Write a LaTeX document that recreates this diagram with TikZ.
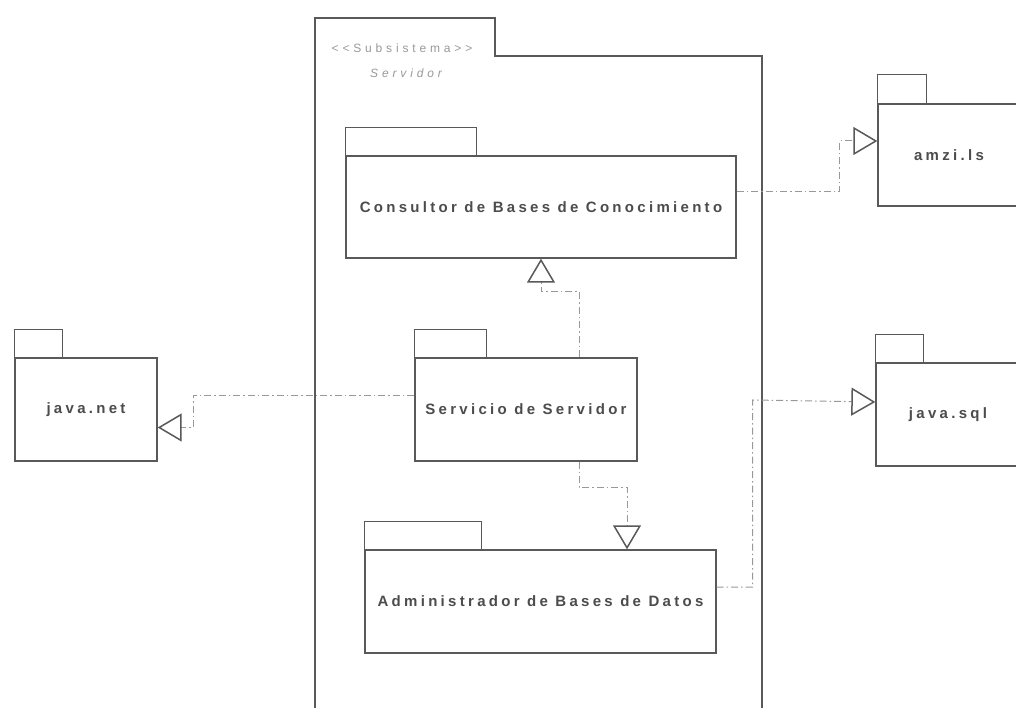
\documentclass[tikz,border=0pt]{standalone}
\usepackage{fontspec}
\setmainfont{Liberation Sans}
\newfontfamily\pkgfont[LetterSpace=22]{Liberation Sans}
\newfontfamily\stfont[LetterSpace=32]{Liberation Sans}
\usetikzlibrary{arrows.meta}
\definecolor{linegray}{gray}{0.35}
\definecolor{depgray}{gray}{0.6}
\definecolor{txtgray}{gray}{0.3}
\tikzset{
  pkg/.style={draw=linegray, line width=1.4pt, rectangle, inner sep=0pt,
    font=\pkgfont\fontsize{15}{17}\selectfont\bfseries, text=txtgray},
  tabbox/.style={draw=linegray, line width=1.4pt},
  stlabel/.style={text=gray!80, font=\stfont\fontsize{12}{14}\selectfont},
  dep/.style={draw=depgray, line width=1pt, dash pattern=on 7pt off 3pt on 1.5pt off 3pt,
    -{Triangle[open, length=24pt, width=28pt, line width=1.5pt, color=linegray]}},
}
\begin{document}
\begin{tikzpicture}[x=1pt,y=-1pt]
\useasboundingbox[fill=white] (0,0) rectangle (1016,708);
\begin{scope}
\clip (0,0) rectangle (1016,708);
% outer subsystem package
\draw[tabbox] (315,720) -- (315,18) -- (495,18) -- (495,56) -- (762,56) -- (762,720);
\node[stlabel] (stereo) at (402,48) {<<Subsistema>>};
\node[stlabel, font=\stfont\fontsize{12}{14}\selectfont\itshape] (sname) at (406,73) {Servidor};
% packages
\node[pkg, minimum width=390pt, minimum height=102pt] (cons) at (541,207) {Consultor de Bases de Conocimiento};
\draw[tabbox] (cons.north west) rectangle ++(131,-28);
\node[pkg, minimum width=222pt, minimum height=103pt] (serv) at (526,409.5) {Servicio de Servidor};
\draw[tabbox] (serv.north west) rectangle ++(72,-28);
\node[pkg, minimum width=351pt, minimum height=103pt] (admin) at (540.5,601.5) {Administrador de Bases de Datos};
\draw[tabbox] (admin.north west) rectangle ++(117,-28);
\node[pkg, minimum width=142pt, minimum height=103pt] (jnet) at (86,409.5) {java.net};
\draw[tabbox] (jnet.north west) rectangle ++(48,-28);
\node[pkg, minimum width=142pt, minimum height=102pt] (amzi) at (949,155) {amzi.ls};
\draw[tabbox] (amzi.north west) rectangle ++(49,-29);
\node[pkg, minimum width=144pt, minimum height=103pt] (jsql) at (948,414.5) {java.sql};
\draw[tabbox] (jsql.north west) rectangle ++(48,-28);
% dependencies
\draw[dep] ([xshift=53pt]serv.north) |- ([yshift=-33pt]cons.south) -- (cons.south);
\draw[dep] ([yshift=14pt]serv.west) -| ([xshift=36pt]jnet.east |- 0,395) |- ([yshift=-18pt]jnet.east);
\draw[dep] ([xshift=53pt]serv.south) |- ([xshift=86.5pt,yshift=-26pt]serv.south -| admin.north) -- ([xshift=86.5pt]admin.north);
\draw[dep] ([yshift=14.5pt]admin.east) -| ([xshift=36pt,yshift=14.5pt]admin.east |- jsql.west) -- ([yshift=12.5pt]jsql.west);
\draw[dep] ([yshift=15pt]cons.east) -| ([xshift=-38pt,yshift=14pt]amzi.west) -- ([yshift=14pt]amzi.west);
\end{scope}
\end{tikzpicture}
\end{document}
